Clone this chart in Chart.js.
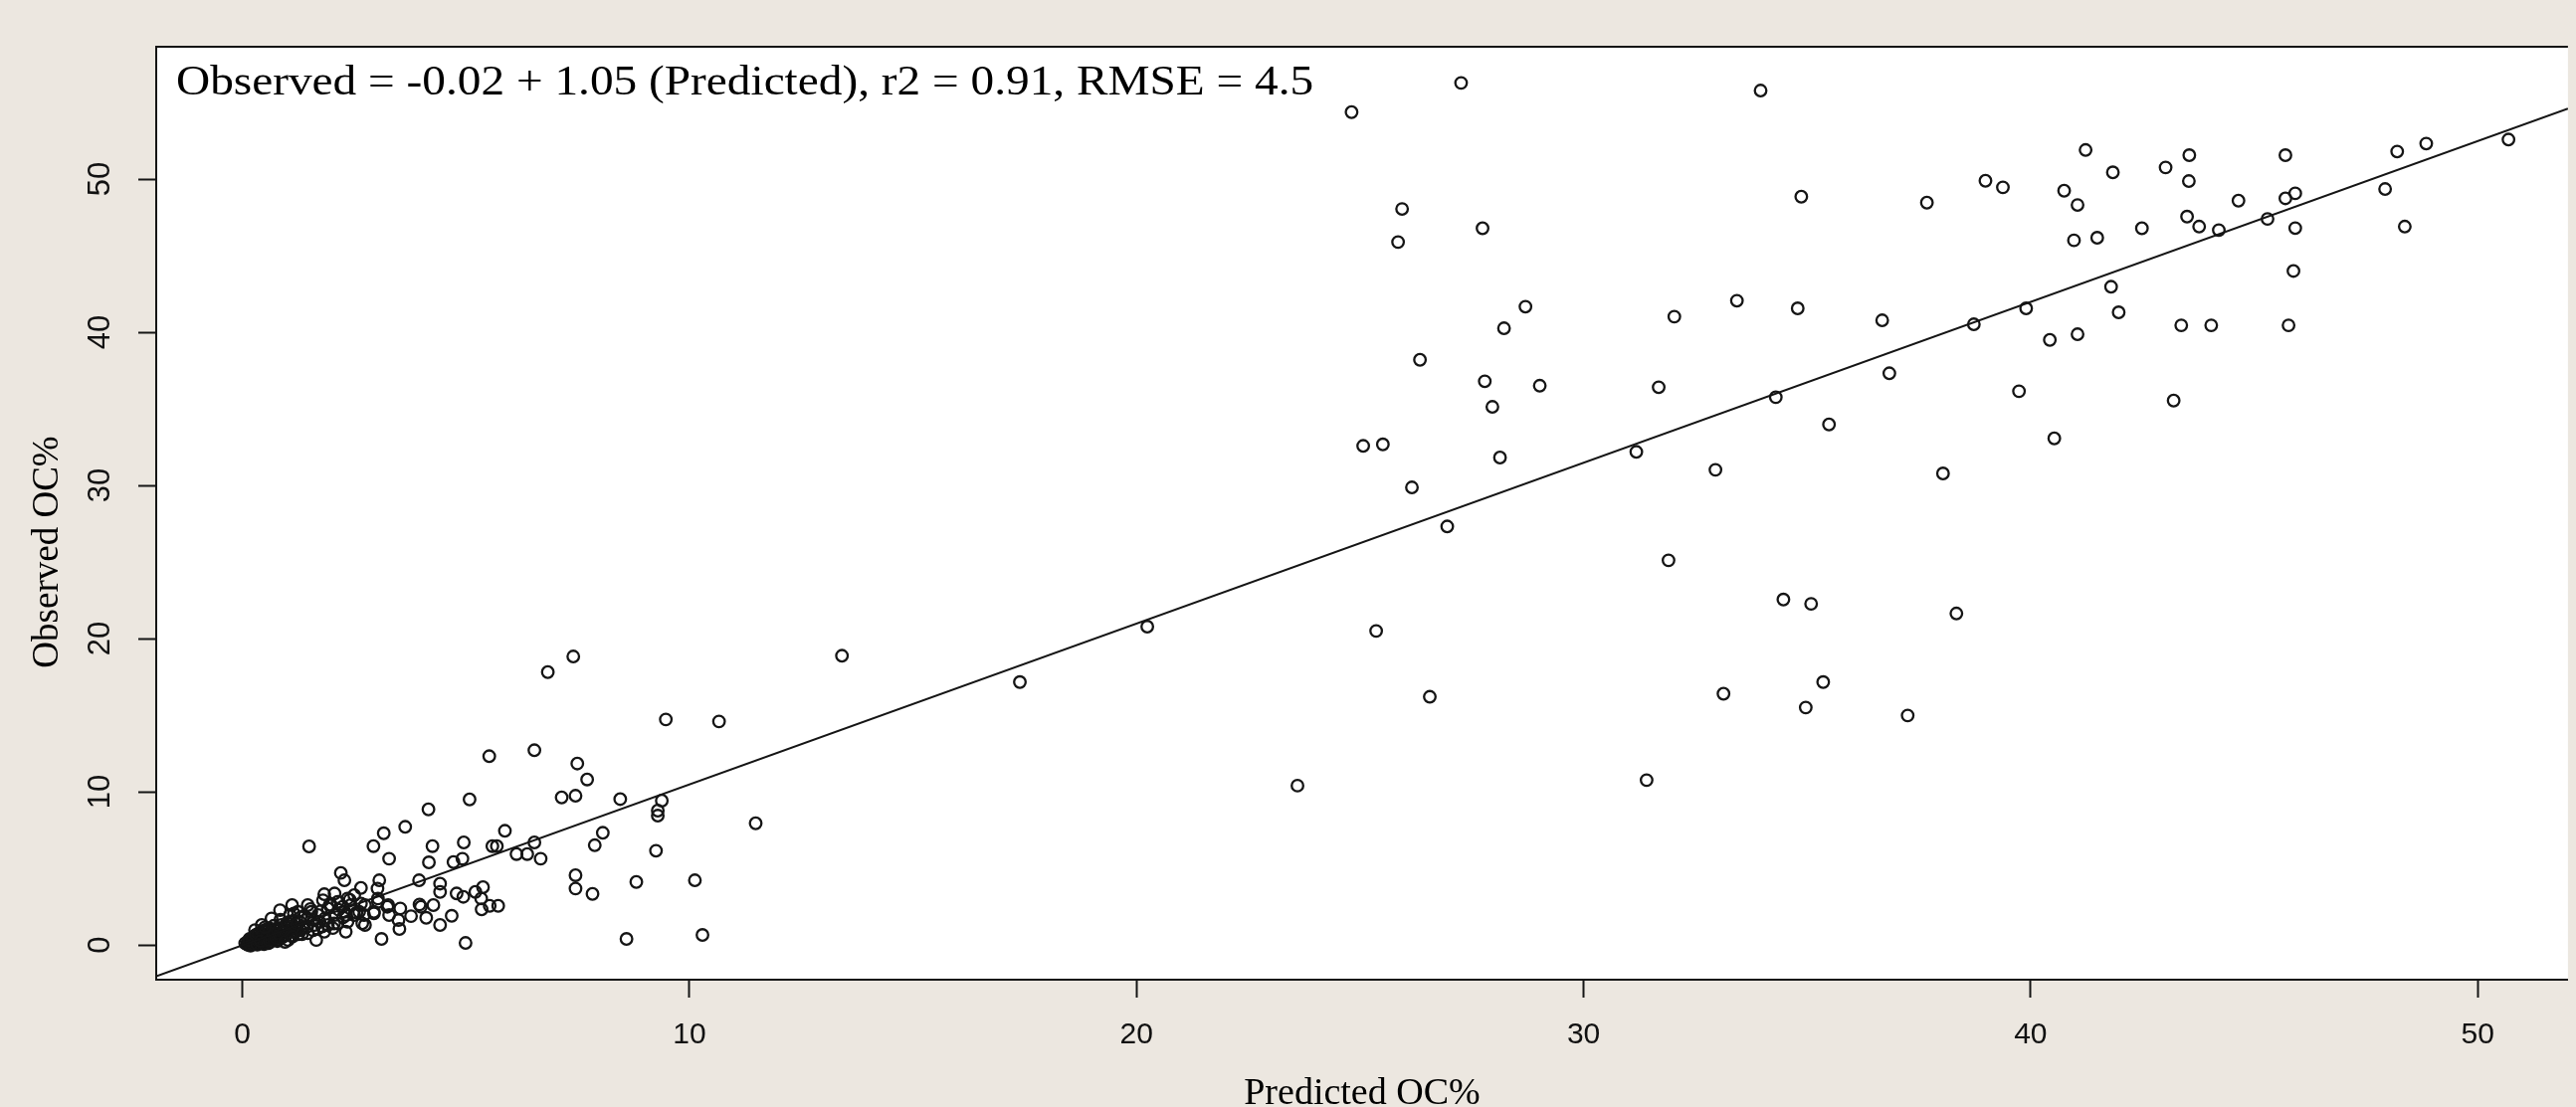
<!DOCTYPE html>
<html>
<head>
<meta charset="utf-8">
<script src="https://cdn.jsdelivr.net/npm/chart.js@4.4.1/dist/chart.umd.min.js"></script>
<style>
  html, body { margin: 0; padding: 0; overflow: hidden; background: #ece7e0; }
  #wrap { position: relative; width: 2589px; height: 1113px; }
</style>
</head>
<body>
<div id="wrap"><canvas id="c"></canvas></div>
<script>
// ---------- data ----------
const predicted = [
  24.81,27.26,33.96,34.87,25.94,25.85,27.74,28.70,28.22,32.03,33.43,34.79,26.34,27.79,29.02,27.96,31.68,34.30,25.07,25.51,
  28.13,31.18,32.95,26.16,26.95,31.90,25.36,26.56,23.60,20.24,17.39,13.41,37.68,38.99,39.38,41.23,40.75,41.05,41.84,43.02,
  43.55,43.54,43.50,43.77,40.97,41.49,42.49,41.80,41.97,43.37,39.90,38.73,36.68,41.05,40.43,36.84,39.74,43.20,35.49,40.53,
  38.04,34.47,35.09,38.34,35.36,33.13,34.97,37.25,31.41,44.04,45.77,45.88,44.21,44.65,45.30,45.70,45.70,45.92,45.92,47.93,
  48.20,48.85,48.37,50.69,
  7.40,6.83,9.47,10.66,5.52,6.53,7.49,7.71,8.45,9.38,9.29,9.29,7.14,7.45,5.08,4.16,3.64,3.16,2.93,3.28,
  1.49,5.87,4.95,4.25,4.17,8.06,7.88,9.25,5.59,5.69,6.53,6.13,6.37,6.67,4.72,4.92,7.45,7.45,7.83,8.81,
  10.12,8.59,10.29,4.99,3.11,2.20,2.28,2.65,3.06,3.95,4.42,4.42,5.38,5.21,4.79,4.94,5.34,5.72,5.53,5.35,
  4.27,3.99,4.68,4.42,4.11,3.77,3.49,3.51,3.02,3.03,1.83,2.68,3.24,3.53,2.94,0.84,1.46,11.48,
  3.03,1.11,3.96,3.26,3.28,2.94,2.74,2.74,2.50,2.31,1.65,1.91,2.13,2.35,1.98,2.50,2.65,2.28,2.06,1.91,
  1.69,1.46,1.24,1.06,1.35,1.61,1.17,0.87,0.65,0.43,0.50,0.28,0.21,0.06,0.13,0.35,0.58,0.80,1.02,0.72,
  0.43,0.98,1.28,1.54,1.80,2.06,2.24,2.42,2.61,2.72,2.35,2.13,1.83,1.46,0.65,0.80,0.39,0.24,0.54,0.91,
  1.17,1.72,1.06,
  0.10,0.12,0.15,0.18,0.20,0.22,0.25,0.27,0.30,0.32,0.35,0.38,0.40,0.42,0.45,0.47,0.50,0.52,0.55,0.58,
  0.60,0.62,0.65,0.68,0.70,0.72,0.75,0.78,0.80,0.85,0.88,0.90,0.95,0.98,1.05,1.10,1.15,1.20,1.25,1.30,
  0.16,0.28,0.36,0.44,0.52,0.60,0.18,0.14,0.33,0.48,
  0.55,0.62,0.70,0.78,0.85,0.92,1.00,1.08,1.15,1.22,1.30,1.38,1.45,1.52,1.60,1.68,1.75,1.85,1.95,2.05,
  2.15,2.25,2.40,2.55,0.30,0.40,0.50,0.60,0.75,0.95,1.12,1.33,1.58,1.78,2.02,2.32
];
const observed = [
  54.37,56.28,55.78,48.85,48.05,45.89,46.79,41.67,40.26,41.02,42.06,41.56,38.20,36.80,36.51,35.13,36.41,35.76,32.58,32.68,
  31.82,32.19,31.02,29.87,27.32,25.11,20.50,16.20,10.40,20.78,17.16,18.88,48.46,49.89,49.46,51.90,49.24,48.31,50.44,50.76,
  51.56,49.87,47.55,46.90,46.00,46.17,46.79,42.97,41.30,40.45,41.56,40.52,40.78,39.87,39.50,37.32,36.15,35.54,33.98,33.07,
  30.78,22.55,22.27,21.64,17.16,16.40,15.50,14.98,10.76,40.45,40.45,44.00,46.67,48.59,47.40,51.56,48.74,49.07,46.80,49.35,
  51.80,52.32,46.90,52.58,
  18.83,17.81,14.72,14.59,12.32,12.71,11.84,10.80,9.52,9.42,8.77,8.44,9.63,9.74,9.50,8.85,7.71,7.29,6.45,5.63,
  6.43,7.45,6.69,6.45,5.39,7.32,6.51,6.15,6.45,6.45,6.69,5.93,5.93,5.63,5.41,5.63,4.55,3.68,3.33,4.11,
  4.22,0.39,0.65,0.13,0.39,4.70,4.22,3.72,4.22,4.22,4.00,3.46,3.77,3.46,3.36,3.14,3.03,2.55,2.55,2.32,
  2.60,2.49,1.90,1.30,1.77,1.88,1.62,1.04,3.68,2.81,3.31,1.41,2.49,2.38,2.06,2.27,2.60,7.94,
  3.03,2.60,2.64,2.60,1.95,2.16,2.60,1.30,1.95,0.86,0.32,1.30,2.81,3.03,2.60,3.25,2.70,2.16,1.95,2.38,
  1.95,1.73,2.16,1.51,1.08,1.30,0.86,1.30,1.73,1.30,0.86,0.97,0.43,0.11,0.00,0.11,0.11,0.32,0.32,0.65,
  0.54,0.97,1.51,2.16,2.92,3.36,2.49,2.60,2.16,1.95,1.51,1.41,0.86,0.76,0.86,1.08,0.76,0.21,0.32,0.54,
  1.19,1.51,1.95,
  0.05,0.15,0.08,0.22,0.10,0.30,0.05,0.18,0.40,0.12,0.28,0.50,0.20,0.35,0.62,0.15,0.45,0.28,0.70,0.38,
  0.55,0.20,0.48,0.80,0.35,0.95,0.60,0.25,0.75,1.10,0.50,0.85,1.20,0.65,1.35,0.90,1.60,1.05,0.70,1.80,
  0.40,0.60,0.75,0.90,1.00,1.10,-0.05,0.30,0.02,0.05,
  0.95,0.40,1.25,0.55,1.65,0.80,1.45,0.60,2.05,1.35,0.95,1.90,1.20,2.35,1.60,1.05,2.20,1.75,2.60,1.40,
  2.30,1.80,2.95,2.10,0.65,0.25,1.15,0.30,0.45,0.20,0.55,0.70,0.95,1.20,1.10,1.95
];
const xTicks = [0, 10, 20, 30, 40, 50];
const yTicks = [0, 10, 20, 30, 40, 50];
const xRange = [-1.93, 52.02];
const yRange = [-2.27, 58.64];
const fitIntercept = -0.02;
const fitSlope = 1.05;
const annotationText = 'Observed = -0.02 + 1.05 (Predicted), r2 = 0.91, RMSE = 4.5';
const xTitle = 'Predicted OC%';
const yTitle = 'Observed OC%';

// ---------- build ----------
const points = predicted.map((p, i) => ({ x: p, y: observed[i] }));
const fitLine = xRange.map(x => ({ x: x, y: fitIntercept + fitSlope * x }));

const INK = '#151515';

const framePlugin = {
  id: 'frame',
  beforeDraw(chart) {
    const { ctx, chartArea: a } = chart;
    ctx.save();
    ctx.fillStyle = '#ffffff';
    ctx.fillRect(a.left, a.top, a.right - a.left, a.bottom - a.top);
    ctx.restore();
  },
  afterDraw(chart) {
    const { ctx, chartArea: a } = chart;
    ctx.save();
    ctx.strokeStyle = INK;
    ctx.lineWidth = 2;
    ctx.beginPath();
    ctx.moveTo(a.left - 1, a.top);
    ctx.lineTo(a.right, a.top);
    ctx.stroke();
    ctx.restore();

    // annotation inside the plot
    ctx.save();
    ctx.fillStyle = '#000';
    ctx.font = '43px "Liberation Serif"';
    ctx.textBaseline = 'alphabetic';
    ctx.textAlign = 'left';
    ctx.translate(a.left + 20, a.top + 48);
    ctx.scale(1.1, 1);
    ctx.fillText(annotationText, 0, 0);
    ctx.restore();

    // y-axis title
    ctx.save();
    ctx.fillStyle = '#000';
    ctx.font = '37px "Liberation Serif"';
    ctx.textAlign = 'center';
    ctx.textBaseline = 'middle';
    ctx.translate(48, a.top + 508);
    ctx.rotate(-Math.PI / 2);
    ctx.fillText(yTitle, 0, 0);
    ctx.restore();
  }
};

const gridOpts = {
  display: true,
  drawOnChartArea: false,
  drawTicks: true,
  tickLength: 18,
  tickColor: INK,
  tickWidth: 2,
  color: INK
};

new Chart(document.getElementById('c'), {
  type: 'scatter',
  data: {
    datasets: [
      {
        type: 'line',
        label: 'fit',
        data: fitLine,
        borderColor: INK,
        borderWidth: 2.2,
        pointRadius: 0,
        fill: false,
        tension: 0,
        order: 0
      },
      {
        label: 'samples',
        data: points,
        pointStyle: 'circle',
        pointRadius: 5.8,
        pointBorderWidth: 2.3,
        borderColor: INK,
        backgroundColor: 'rgba(0,0,0,0)',
        pointBackgroundColor: 'rgba(0,0,0,0)',
        pointBorderColor: INK,
        order: 1
      }
    ]
  },
  options: {
    responsive: true,
    maintainAspectRatio: false,
    devicePixelRatio: 1,
    animation: false,
    events: [],
    layout: { padding: { top: 47, left: 0, right: 0, bottom: 0 } },
    plugins: {
      legend: { display: false },
      tooltip: { enabled: false },
      title: { display: false }
    },
    scales: {
      x: {
        type: 'linear',
        min: xRange[0],
        max: xRange[1],
        afterBuildTicks: s => { s.ticks = xTicks.map(v => ({ value: v })); },
        afterFit: s => { s.height = 128; },
        ticks: {
          font: { family: '"Liberation Sans"', size: 30 },
          color: '#111',
          padding: 20,
          maxRotation: 0,
          autoSkip: false
        },
        title: {
          display: true,
          text: xTitle,
          font: { family: '"Liberation Serif"', size: 38 },
          color: '#000',
          padding: { top: 0, bottom: -10 }
        },
        grid: gridOpts,
        border: { display: true, color: INK, width: 2 }
      },
      y: {
        type: 'linear',
        min: yRange[0],
        max: yRange[1],
        afterBuildTicks: s => { s.ticks = yTicks.map(v => ({ value: v })); },
        afterFit: s => { s.width = 157; },
        ticks: {
          font: { family: '"Liberation Sans"', size: 31 },
          color: '#111',
          padding: 20,
          minRotation: 90,
          maxRotation: 90,
          crossAlign: 'center',
          autoSkip: false
        },
        title: { display: false },
        grid: gridOpts,
        border: { display: true, color: INK, width: 2 }
      }
    }
  },
  plugins: [framePlugin]
});
</script>
</body>
</html>
